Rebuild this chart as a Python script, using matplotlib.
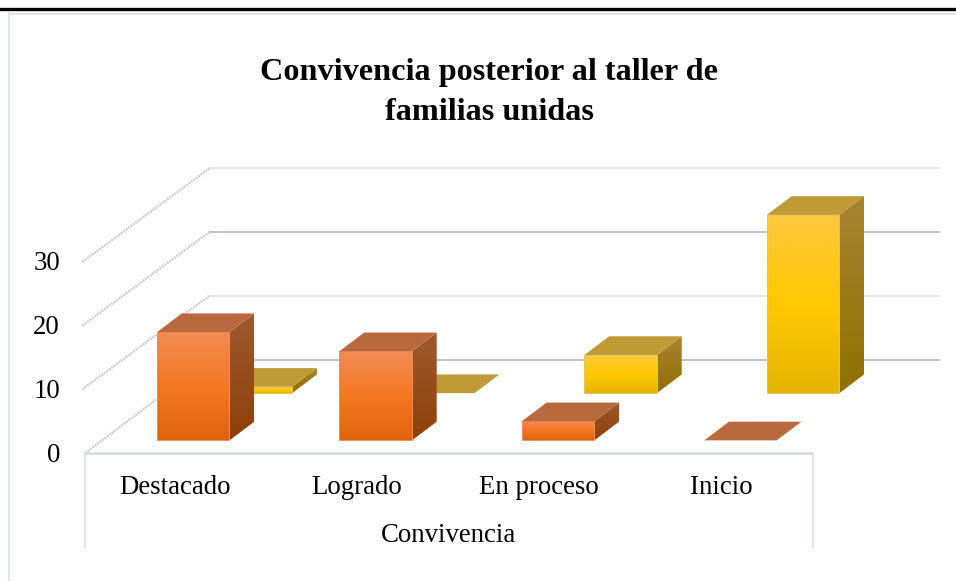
import numpy as np
import matplotlib
matplotlib.use("Agg")
import matplotlib.pyplot as plt
from matplotlib.colors import LinearSegmentedColormap
from matplotlib.lines import Line2D
from matplotlib.patches import Polygon

categories = ["Destacado", "Logrado", "En proceso", "Inicio"]
orange_values = [17, 14, 3, 0]
yellow_values = [1, 0, 6, 28]
value_ticks = [0, 10, 20, 30]
axis_title = "Convivencia"
chart_title = "Convivencia posterior al taller de\nfamilias unidas"

plt.rcParams["font.family"] = ["Liberation Serif", "DejaVu Serif"]

W, H = 956, 581
fig = plt.figure(figsize=(W / 100, H / 100), dpi=100)
ax = fig.add_axes([0, 0, 1, 1])

# scales: one category = 182.4 px, ten units = 63.67 px
px_cat = 182.4
px_unit = 6.367
ax.set_xlim((0 - 176.5) / px_cat, (W - 176.5) / px_cat)
ax.set_ylim((453 - H) / px_unit, 453 / px_unit)
ax.set_autoscale_on(False)
ax.axis("off")

# oblique depth of the fake 3d box, in data units
depth_x = 124 / px_cat
depth_y = 93.5 / px_unit
bar_w = 72.5 / px_cat
bar_depth = 0.2


def proj(x, v, d):
    return x + d * depth_x, v + d * depth_y


def face(pts, stops, z):
    # polygon filled with a vertical gradient
    xs = [p[0] for p in pts]
    ys = [p[1] for p in pts]
    cmap = LinearSegmentedColormap.from_list("f", stops)
    im = ax.imshow(np.linspace(1, 0, 128).reshape(-1, 1), cmap=cmap, vmin=0, vmax=1,
                   extent=[min(xs), max(xs), min(ys), max(ys)], aspect="auto",
                   origin="lower", zorder=z, interpolation="bilinear")
    clip = Polygon(pts, closed=True, transform=ax.transData, fc="none", ec="none")
    ax.add_patch(clip)
    im.set_clip_path(clip)


def box(x, v, d0, front, side, top, edge, z):
    l, r = x - bar_w / 2, x + bar_w / 2
    d1 = d0 + bar_depth
    if v > 0:
        pts = [proj(l, 0, d0), proj(r, 0, d0), proj(r, v, d0), proj(l, v, d0)]
        face(pts, front, z)
        ax.add_patch(Polygon(pts, closed=True, fc="none", ec=edge, lw=0.7, zorder=z + 0.1))
        pts = [proj(r, 0, d0), proj(r, 0, d1), proj(r, v, d1), proj(r, v, d0)]
        face(pts, side, z)
    pts = [proj(l, v, d0), proj(r, v, d0), proj(r, v, d1), proj(l, v, d1)]
    ax.add_patch(Polygon(pts, closed=True, fc=top, ec="none", zorder=z + 0.2))


# back wall and left wall grid
for i, v in enumerate(value_ticks):
    col = "#bfc3cc" if i % 2 == 0 else "#e3e5ea"
    x0, y0 = proj(-0.5, v, 1)
    x1, y1 = proj(3.505, v, 1)
    ax.plot([x0, x1], [y0, y1], color=col, lw=1.4, zorder=1, solid_capstyle="butt")
    xa, ya = proj(-0.5 - 3 / px_cat * (v > 0), v, 0)
    ax.plot([xa, x0], [ya, y0], color="#cfcfcf", lw=1.8, ls=(0, (0.8, 0.4)), zorder=1)

# axis line plus the two multi level separators
ax.plot([-0.5, 3.49], [0, 0], color="#d5d8df", lw=1.8, zorder=1, solid_capstyle="butt")
for xv in [-0.5, 3.49]:
    ax.plot([xv, xv], [0, -95 / px_unit], color="#dde0e8", lw=1.3, zorder=1, solid_capstyle="butt")

xs = np.arange(len(categories))
orange_front = ["#f28c55", "#f47723", "#e0630f"]
orange_side = ["#9e5a31", "#8e4007"]
yellow_front = ["#ffc840", "#ffc800", "#e5b400"]
yellow_side = ["#a98430", "#907000"]

z = 2
for x, v in zip(xs, yellow_values):
    box(x, v, 0.64, yellow_front, yellow_side, "#bf9a36", "#e3c45a", z)
    z += 1
for x, v in zip(xs, orange_values):
    box(x, v, 0.135, orange_front, orange_side, "#b8693d", "#f28c55", z)
    z += 1

# labels
for v in value_ticks:
    ax.text(-116.5 / px_cat, v - 2 / px_unit, str(v), ha="right", va="center", fontsize=19.3, color="black", zorder=50)
for x, c in zip(xs, categories):
    ax.text(x - 2 / px_cat, -35 / px_unit, c, ha="center", va="center", fontsize=19.3, color="black", zorder=50)
ax.text(1.49, -82 / px_unit, axis_title, ha="center", va="center", fontsize=19.3, color="black", zorder=50)
ax.text((489.5 - 176.5) / px_cat, (453 - 92.5) / px_unit, chart_title, ha="center", va="center",
        fontsize=23.2, fontweight="bold", linespacing=1.53, color="black", zorder=50)

# page rule and chart frame
fig.add_artist(Line2D([0, 1], [1 - 8.5 / H, 1 - 8.5 / H], color="black", lw=2.4, transform=fig.transFigure))
fig.add_artist(Line2D([9 / W, 1], [1 - 13.5 / H, 1 - 13.5 / H], color="#dfe4e9", lw=1.4, transform=fig.transFigure))
fig.add_artist(Line2D([9 / W, 9 / W], [1 - 13 / H, 0], color="#dfe4e9", lw=1.4, transform=fig.transFigure))

fig.savefig("out.png", dpi=100, facecolor="white")
